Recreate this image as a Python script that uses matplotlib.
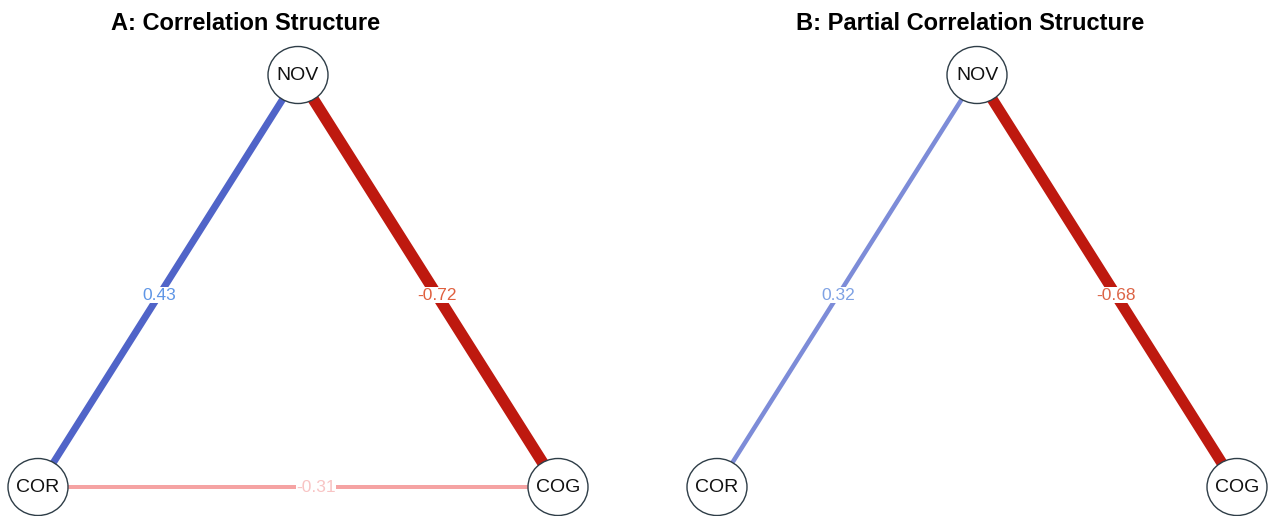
import matplotlib
matplotlib.use("Agg")
import matplotlib.pyplot as plt
from matplotlib.patches import Ellipse

plt.rcParams['font.family'] = ['Liberation Sans', 'DejaVu Sans']

# ---- data ----
nodes = ["COR", "NOV", "COG"]
layout_x = [-1.0, 0.0, 1.0]
layout_y = [-1.0, 1.0, -1.0]

titles = ["A: Correlation Structure", "B: Partial Correlation Structure"]

edges_a_from = ["NOV", "NOV", "COR"]
edges_a_to = ["COR", "COG", "COG"]
edges_a_w = [0.43, -0.72, -0.31]

edges_b_from = ["NOV", "NOV"]
edges_b_to = ["COR", "COG"]
edges_b_w = [0.32, -0.68]

# ---- styles ----
W, H, DPI = 1269, 516, 100
fig = plt.figure(figsize=(W / DPI, H / DPI), dpi=DPI)

edge_colors = {0.43: "#5064C8", -0.72: "#BE190F", -0.31: "#F5A3A3",
               0.32: "#7D8CD8", -0.68: "#BE190F"}
label_colors = {0.43: "#5F96E6", -0.72: "#E0603F", -0.31: "#F8C4C4",
                0.32: "#7FA2E4", -0.68: "#DC6446"}
width_px = {0.43: 7, -0.72: 11.5, -0.31: 4, 0.32: 4.5, -0.68: 11}

panel_left_px = [38, 717]
panel_w_px = 520
bottom_px, top_px = 516 - 487, 516 - 75
title_cx_px = [246, 970]
title_cy_px = 23

node_w_px, node_h_px = 60, 57


def draw_panel(left_px, title, title_cx, efrom, eto, ew):
    ax = fig.add_axes([left_px / W, bottom_px / H, panel_w_px / W,
                       (top_px - bottom_px) / H])
    ax.set_xlim(-1, 1)
    ax.set_ylim(-1, 1)
    ax.axis("off")
    pos = {n: (x, y) for n, x, y in zip(nodes, layout_x, layout_y)}
    for a, b, w in zip(efrom, eto, ew):
        (x0, y0), (x1, y1) = pos[a], pos[b]
        ax.plot([x0, x1], [y0, y1], color=edge_colors[w],
                lw=width_px[w] * 72 / DPI, solid_capstyle="butt",
                zorder=1, clip_on=False)
        t = 0.534
        lx, ly = x0 + t * (x1 - x0), y0 + t * (y1 - y0)
        ax.text(lx, ly, f"{w:.2f}", color=label_colors[w], fontsize=12.5,
                ha="center", va="center", zorder=2,
                bbox=dict(facecolor="white", edgecolor="none", pad=0.2))
    ew_data = node_w_px / panel_w_px * 2
    eh_data = node_h_px / (top_px - bottom_px) * 2
    for n in nodes:
        x, y = pos[n]
        ax.add_patch(Ellipse((x, y), ew_data, eh_data, facecolor="white",
                             edgecolor="#2E3D47", lw=1.0, zorder=3,
                             clip_on=False))
        ax.text(x, y, n, fontsize=14, ha="center", va="center",
                color="#111111", zorder=4)
    fig.text(title_cx / W, 1 - title_cy_px / H, title, fontsize=17,
             fontweight="bold", ha="center", va="center")


draw_panel(panel_left_px[0], titles[0], title_cx_px[0],
           edges_a_from, edges_a_to, edges_a_w)
draw_panel(panel_left_px[1], titles[1], title_cx_px[1],
           edges_b_from, edges_b_to, edges_b_w)

fig.savefig("out.png", dpi=DPI, facecolor="white")
